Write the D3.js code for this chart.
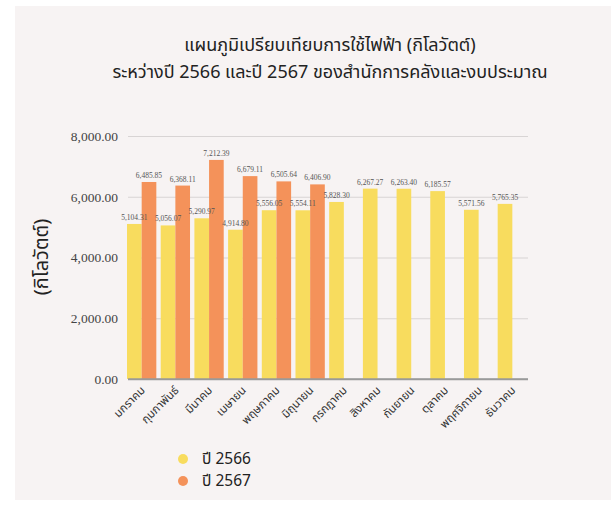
<!DOCTYPE html>
<html><head><meta charset="utf-8">
<script src="https://cdn.jsdelivr.net/npm/d3@7"></script>
<style>
html,body{margin:0;padding:0;background:#fff;}
svg{display:block;}
</style></head>
<body>
<svg id="chart" width="611" height="506"></svg>
<script>
const months = ["มกราคม","กุมภาพันธ์","มีนาคม","เมษายน","พฤษภาคม","มิถุนายน","กรกฎาคม","สิงหาคม","กันยายน","ตุลาคม","พฤศจิกายน","ธันวาคม"];
const series2566 = [5104.31,5056.07,5290.97,4914.80,5556.05,5554.11,5828.30,6267.27,6263.40,6185.57,5571.56,5765.35];
const series2567 = [6485.85,6368.11,7212.39,6679.11,6505.64,6406.90,null,null,null,null,null,null];
const seriesNames = ["ปี 2566","ปี 2567"];
const colors = ["#F8DC5E","#F4925A"];
const yTicks = [0,2000,4000,6000,8000];
const titleLines = ["แผนภูมิเปรียบเทียบการใช้ไฟฟ้า (กิโลวัตต์)","ระหว่างปี 2566 และปี 2567 ของสำนักการคลังและงบประมาณ"];
const yTitle = "(กิโลวัตต์)";

const svg = d3.select("#chart");
const thai = "'Noto Sans Thai','Noto Sans','DejaVu Sans',sans-serif";
const numFont = "'Liberation Serif','DejaVu Serif',serif";

svg.append("rect").attr("x",15).attr("y",6).attr("width",596).attr("height",494).attr("fill","#F7F3F3");

const x = d3.scaleBand().domain(months).range([126,528]).paddingInner(0.13).paddingOuter(0.03);
const x1 = d3.scaleBand().domain([0,1]).range([0,x.bandwidth()]);
const y = d3.scaleLinear().domain([0,8000]).range([379,136]);

// grid
const yAxis = d3.axisLeft(y).tickValues(yTicks).tickSize(-(528-128)).tickFormat(d=>d3.format(",.2f")(d)).tickPadding(10);
const gy = svg.append("g").attr("transform","translate(128,0)").call(yAxis);
gy.select(".domain").remove();
gy.selectAll(".tick line").attr("stroke",d=>d===0?"#9a9a9a":"#d8d4d4").attr("stroke-width",d=>d===0?1.3:1.2);
gy.selectAll(".tick text").attr("font-family",numFont).attr("font-size",13.5).attr("fill","#444");

const data = months.map((m,i)=>({m, vals:[series2566[i],series2567[i]]}));
const fmt = d3.format(",.2f");
const groups = svg.append("g").selectAll("g").data(data).join("g").attr("transform",d=>`translate(${x(d.m)},0)`);
groups.selectAll("rect").data(d=>d.vals.map((v,k)=>({v,k})).filter(e=>e.v!=null)).join("rect")
  .attr("x",e=>x1(e.k)).attr("width",x1.bandwidth()).attr("y",e=>y(e.v)).attr("height",e=>y(0)-y(e.v)).attr("fill",e=>colors[e.k]);
groups.selectAll("text").data(d=>d.vals.map((v,k)=>({v,k})).filter(e=>e.v!=null)).join("text")
  .attr("x",e=>x1(e.k)+x1.bandwidth()/2).attr("y",e=>y(e.v)-4).attr("text-anchor","middle")
  .attr("font-family",numFont).attr("font-size",7.5).attr("fill","#555").text(e=>fmt(e.v));
// baseline on top
svg.append("line").attr("x1",128).attr("x2",528).attr("y1",y(0)).attr("y2",y(0)).attr("stroke","#9a9a9a").attr("stroke-width",1.3);

// x labels
svg.append("g").selectAll("text").data(months).join("text")
  .attr("transform",d=>`translate(${x(d)+x.bandwidth()/2+4},${391}) rotate(-45)`)
  .attr("text-anchor","end").attr("font-family",thai).attr("font-size",11.5).attr("fill","#333").text(d=>d);

// title
svg.append("g").selectAll("text").data(titleLines).join("text")
  .attr("x",330).attr("y",(d,i)=>51+i*27).attr("text-anchor","middle")
  .attr("font-family",thai).attr("font-size",18).attr("fill","#222").text(d=>d);

// y title
svg.append("text").attr("transform","translate(48,257) rotate(-90)").attr("text-anchor","middle")
  .attr("font-family",thai).attr("font-size",20).attr("fill","#222").text(yTitle);

// legend
const lg = svg.append("g").selectAll("g").data(seriesNames).join("g").attr("transform",(d,i)=>`translate(183,${459+i*22})`);
lg.append("circle").attr("r",5).attr("fill",(d,i)=>colors[i]);
lg.append("text").attr("x",19).attr("y",5).attr("font-family",thai).attr("font-size",15.5).attr("fill","#222").text(d=>d);
</script>
</body></html>
